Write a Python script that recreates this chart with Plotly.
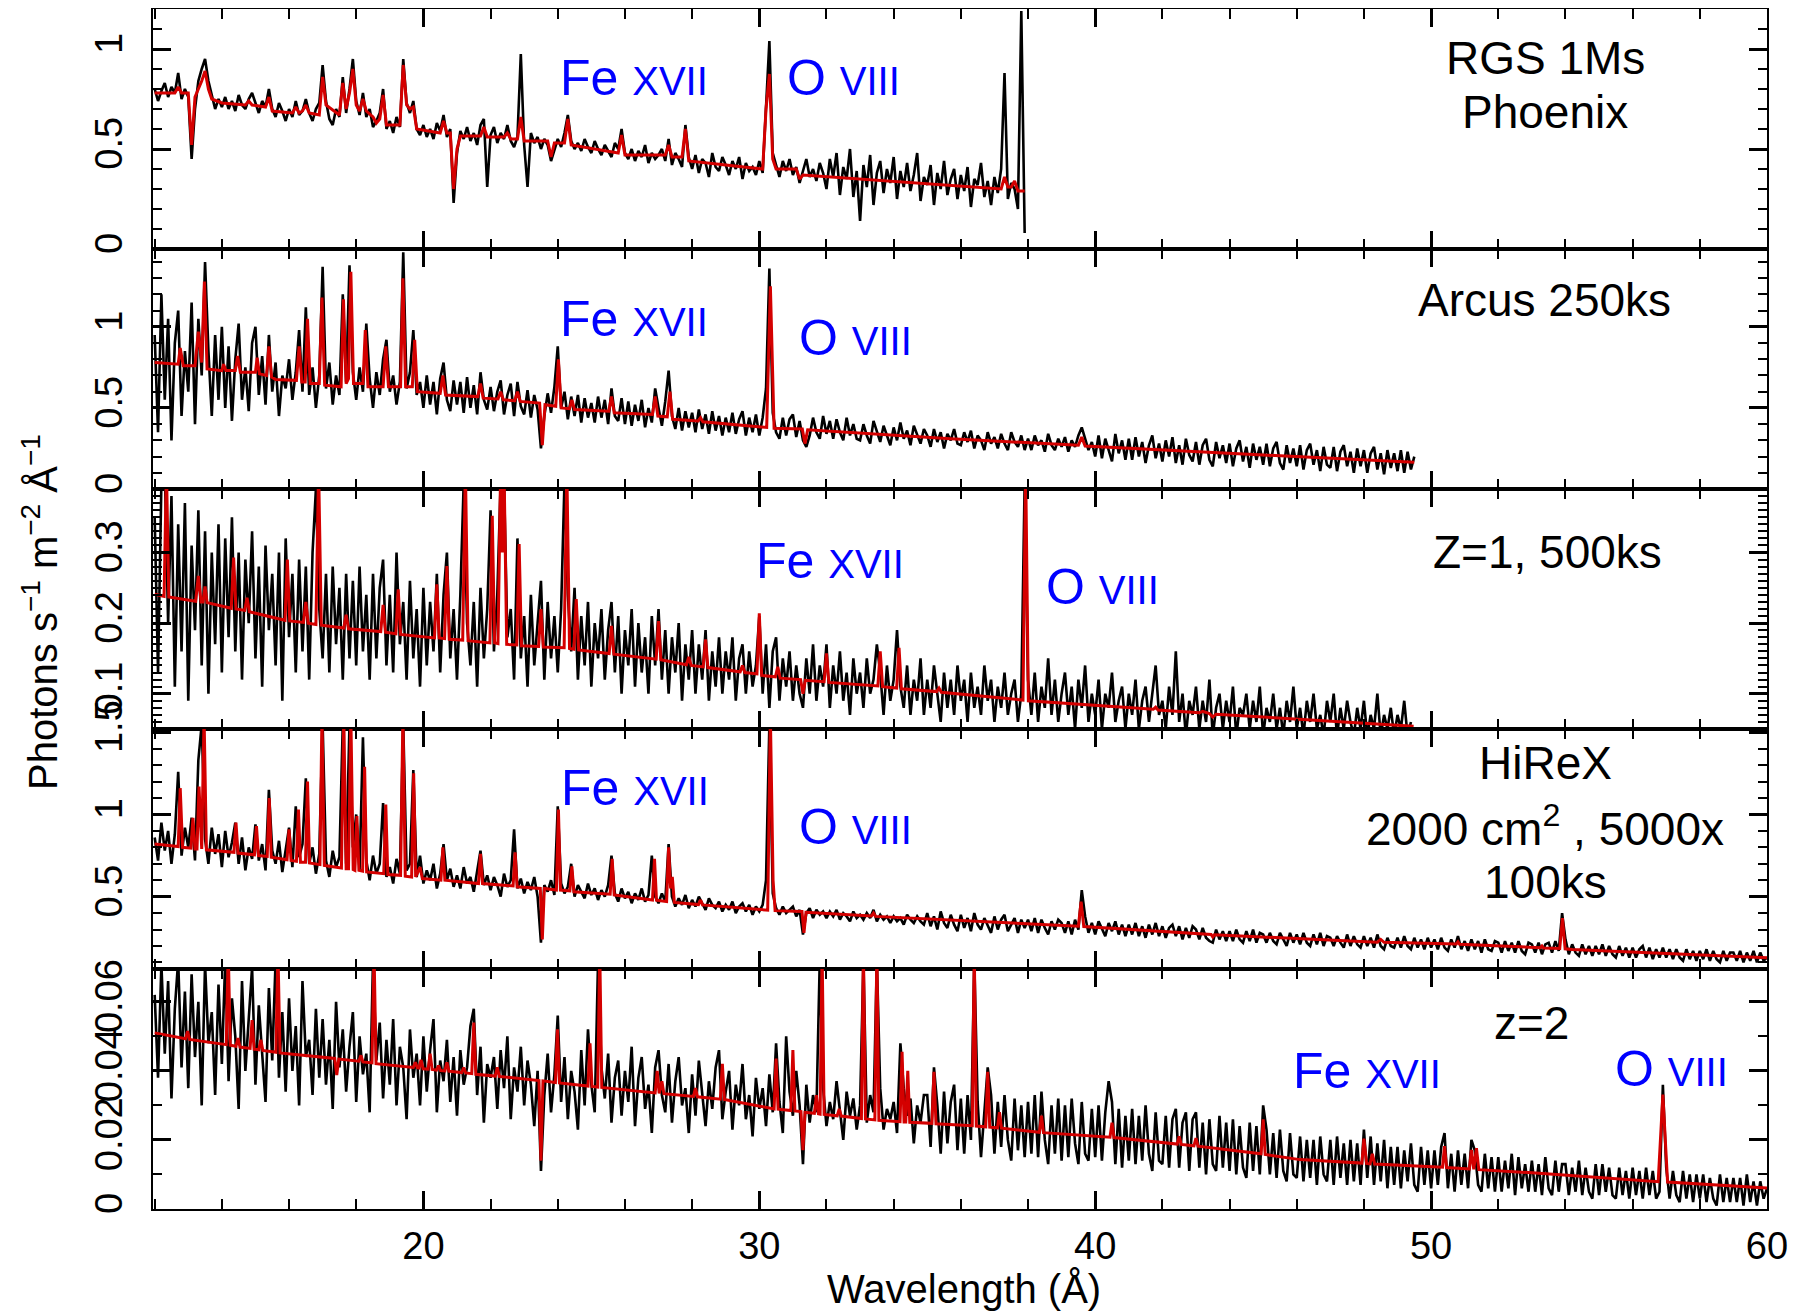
import numpy as np
import plotly.graph_objects as go
from plotly.subplots import make_subplots

# page offset of the figure (default body margin of the html page)
OFF = 8
W, H = 1804 - OFF, 1314 - OFF
ML, MR, MT, MB = 153 - OFF, 37, 9 - OFF, 105
FONT = "Liberation Sans, Arial, Helvetica, sans-serif"
BLUE = "#0000ff"
RED = "#d40000"

# ---------------- data: binned spectra (0.1 A bins starting at 12.0 A) ----------------
rgs_flux = [
    0.80,0.74,0.79,0.83,0.76,0.81,0.78,0.88,0.75,0.80,
    0.76,0.45,0.70,0.84,0.90,0.95,0.84,0.77,0.70,0.75,
    0.71,0.76,0.70,0.74,0.69,0.77,0.72,0.70,0.75,0.78,
    0.73,0.68,0.74,0.71,0.80,0.70,0.66,0.73,0.69,0.64,
    0.70,0.66,0.74,0.67,0.69,0.75,0.68,0.64,0.70,0.73,
    0.92,0.74,0.65,0.62,0.70,0.66,0.86,0.68,0.80,0.95,
    0.74,0.67,0.78,0.66,0.70,0.61,0.64,0.68,0.80,0.60,
    0.64,0.58,0.66,0.61,0.95,0.73,0.68,0.74,0.60,0.57,
    0.62,0.56,0.60,0.55,0.63,0.59,0.67,0.56,0.60,0.23,
    0.48,0.59,0.55,0.61,0.54,0.58,0.52,0.62,0.65,0.31,
    0.57,0.61,0.53,0.58,0.55,0.62,0.54,0.51,0.56,0.975,
    0.52,0.31,0.58,0.53,0.56,0.50,0.55,0.52,0.44,0.50,
    0.55,0.51,0.58,0.67,0.54,0.50,0.53,0.49,0.55,0.51,
    0.48,0.54,0.50,0.47,0.52,0.49,0.46,0.53,0.50,0.60,
    0.48,0.45,0.50,0.44,0.49,0.46,0.52,0.43,0.48,0.45,
    0.47,0.50,0.44,0.55,0.42,0.48,0.45,0.41,0.62,0.46,
    0.40,0.47,0.38,0.45,0.43,0.36,0.48,0.41,0.39,0.46,
    0.42,0.37,0.44,0.40,0.46,0.35,0.43,0.39,0.41,0.37,
    0.44,0.38,0.72,1.04,0.48,0.42,0.36,0.44,0.39,0.45,
    0.37,0.41,0.33,0.39,0.45,0.36,0.40,0.34,0.43,0.38,
    0.30,0.45,0.36,0.48,0.27,0.41,0.35,0.50,0.26,0.39,
    0.14,0.42,0.31,0.47,0.22,0.38,0.44,0.28,0.40,0.33,
    0.46,0.25,0.39,0.31,0.43,0.29,0.37,0.48,0.24,0.36,
    0.32,0.42,0.22,0.38,0.30,0.44,0.27,0.35,0.40,0.25,
    0.37,0.29,0.41,0.21,0.35,0.32,0.43,0.26,0.34,0.22,
    0.36,0.28,0.40,0.88,0.25,0.33,0.30,0.20,1.19,0.08,
]

arcus_flux = [
    0.95,0.35,1.20,0.55,1.05,0.30,0.90,1.10,0.45,0.85,
    0.60,1.15,0.40,1.05,0.70,1.40,0.85,0.45,0.95,0.55,
    1.00,0.50,0.88,0.42,0.80,1.02,0.55,0.75,0.48,0.90,
    1.00,0.58,0.82,0.52,0.95,0.60,0.78,0.45,0.70,0.62,
    0.80,0.55,0.72,0.98,0.60,1.12,0.58,0.75,0.50,0.70,
    1.37,0.62,0.78,0.52,0.70,0.58,1.20,0.66,1.38,0.72,
    0.55,0.75,0.60,1.02,0.68,0.50,0.72,0.58,0.80,0.92,
    0.60,0.70,0.52,0.66,1.46,0.62,0.72,0.98,0.58,0.66,
    0.50,0.70,0.52,0.66,0.46,0.68,0.78,0.55,0.48,0.67,
    0.52,0.66,0.47,0.69,0.50,0.64,0.46,0.72,0.55,0.49,
    0.63,0.48,0.60,0.67,0.46,0.58,0.65,0.45,0.66,0.51,
    0.46,0.61,0.44,0.58,0.49,0.25,0.45,0.59,0.47,0.63,
    0.88,0.50,0.60,0.43,0.57,0.45,0.58,0.41,0.56,0.44,
    0.53,0.41,0.57,0.44,0.55,0.40,0.62,0.45,0.42,0.56,
    0.40,0.54,0.39,0.52,0.42,0.55,0.38,0.50,0.41,0.62,
    0.50,0.39,0.54,0.73,0.45,0.37,0.50,0.36,0.48,0.38,
    0.47,0.35,0.49,0.37,0.46,0.34,0.48,0.36,0.45,0.33,
    0.44,0.35,0.47,0.34,0.43,0.48,0.33,0.44,0.35,0.46,
    0.33,0.44,0.62,1.36,0.47,0.35,0.31,0.44,0.33,0.43,
    0.46,0.32,0.42,0.30,0.26,0.33,0.44,0.35,0.31,0.45,
    0.34,0.42,0.31,0.43,0.35,0.30,0.44,0.33,0.40,0.31,
    0.30,0.40,0.33,0.28,0.42,0.35,0.29,0.39,0.33,0.27,
    0.38,0.30,0.41,0.31,0.36,0.27,0.39,0.33,0.28,0.37,
    0.33,0.26,0.37,0.29,0.35,0.25,0.34,0.30,0.37,0.28,
    0.27,0.35,0.29,0.36,0.25,0.33,0.30,0.24,0.35,0.28,
    0.32,0.25,0.34,0.28,0.24,0.35,0.29,0.26,0.33,0.24,
    0.31,0.24,0.33,0.27,0.30,0.23,0.34,0.27,0.24,0.31,
    0.26,0.32,0.23,0.30,0.26,0.33,0.38,0.31,0.24,0.29,
    0.20,0.33,0.19,0.31,0.24,0.17,0.34,0.22,0.30,0.18,
    0.31,0.18,0.32,0.20,0.29,0.16,0.27,0.33,0.19,0.28,
    0.17,0.30,0.20,0.32,0.16,0.27,0.15,0.31,0.21,0.17,
    0.29,0.15,0.27,0.31,0.18,0.14,0.29,0.19,0.27,0.16,
    0.28,0.14,0.25,0.30,0.17,0.26,0.13,0.28,0.18,0.26,
    0.15,0.28,0.14,0.25,0.29,0.16,0.12,0.27,0.16,0.25,
    0.14,0.27,0.12,0.24,0.28,0.15,0.24,0.11,0.26,0.15,
    0.13,0.26,0.11,0.23,0.27,0.14,0.23,0.10,0.25,0.14,
    0.24,0.10,0.22,0.26,0.12,0.22,0.09,0.24,0.13,0.22,
    0.11,0.24,0.10,0.23,0.12,0.20,
]

z1_flux = [
    0.35,0.13,0.40,0.42,0.20,0.38,0.11,0.34,0.16,0.37,
    0.09,0.31,0.19,0.36,0.14,0.33,0.10,0.30,0.17,0.34,
    0.13,0.32,0.18,0.35,0.16,0.30,0.12,0.29,0.20,0.33,
    0.15,0.28,0.11,0.31,0.19,0.27,0.14,0.30,0.09,0.32,
    0.18,0.27,0.13,0.29,0.16,0.28,0.12,0.30,0.39,0.22,
    0.15,0.27,0.13,0.28,0.17,0.25,0.12,0.27,0.15,0.26,
    0.14,0.28,0.16,0.24,0.12,0.27,0.15,0.25,0.29,0.14,
    0.24,0.13,0.30,0.17,0.23,0.12,0.26,0.15,0.22,0.11,
    0.25,0.14,0.23,0.16,0.27,0.13,0.24,0.30,0.15,0.22,
    0.12,0.24,0.40,0.20,0.14,0.23,0.11,0.25,0.15,0.22,
    0.36,0.16,0.24,0.40,0.40,0.18,0.22,0.12,0.32,0.15,
    0.21,0.11,0.24,0.14,0.20,0.26,0.12,0.23,0.15,0.21,
    0.13,0.22,0.40,0.24,0.16,0.25,0.12,0.21,0.14,0.23,
    0.11,0.20,0.15,0.22,0.12,0.19,0.23,0.13,0.21,0.10,
    0.19,0.14,0.22,0.11,0.20,0.13,0.18,0.10,0.21,0.14,
    0.22,0.12,0.19,0.10,0.18,0.13,0.20,0.09,0.17,0.12,
    0.19,0.10,0.17,0.12,0.19,0.09,0.16,0.11,0.18,0.10,
    0.16,0.12,0.18,0.09,0.15,0.17,0.10,0.16,0.11,0.14,
    0.21,0.10,0.17,0.08,0.16,0.18,0.09,0.15,0.11,0.16,
    0.09,0.14,0.10,0.08,0.15,0.10,0.17,0.09,0.14,0.11,
    0.17,0.08,0.14,0.10,0.16,0.09,0.13,0.07,0.15,0.10,
    0.13,0.08,0.15,0.10,0.12,0.17,0.13,0.07,0.14,0.09,
    0.12,0.19,0.11,0.08,0.14,0.07,0.12,0.09,0.15,0.07,
    0.12,0.08,0.14,0.10,0.06,0.13,0.08,0.12,0.07,0.14,
    0.09,0.12,0.06,0.13,0.08,0.11,0.07,0.14,0.09,0.12,
    0.06,0.11,0.08,0.13,0.07,0.10,0.12,0.06,0.10,0.40,
    0.12,0.07,0.13,0.06,0.11,0.08,0.15,0.07,0.12,0.06,
    0.10,0.13,0.07,0.11,0.05,0.12,0.08,0.14,0.06,0.10,
    0.07,0.12,0.05,0.10,0.08,0.13,0.06,0.09,0.11,0.05,
    0.10,0.07,0.12,0.05,0.09,0.11,0.06,0.10,0.14,0.07,
    0.09,0.05,0.11,0.07,0.16,0.06,0.10,0.04,0.09,0.07,
    0.11,0.05,0.09,0.06,0.12,0.04,0.08,0.10,0.05,0.09,
    0.06,0.11,0.04,0.08,0.07,0.10,0.05,0.09,0.06,0.11,
    0.04,0.08,0.06,0.10,0.05,0.08,0.04,0.09,0.06,0.11,
    0.05,0.08,0.04,0.09,0.06,0.10,0.05,0.07,0.04,0.09,
    0.06,0.10,0.04,0.08,0.05,0.09,0.06,0.04,0.08,0.05,
    0.09,0.04,0.07,0.05,0.10,0.04,0.07,0.05,0.08,0.04,
    0.07,0.05,0.09,0.04,0.06,
]

hirex_flux = [
    0.86,0.72,0.95,0.78,0.90,0.70,0.88,1.26,0.75,0.92,
    0.80,0.98,0.72,1.33,1.55,0.85,0.70,0.92,0.76,0.88,
    0.68,0.90,0.74,0.83,0.95,0.70,0.86,0.66,0.80,0.73,
    0.94,0.72,0.82,0.66,1.15,0.78,0.70,0.84,0.65,0.79,
    0.92,0.68,1.05,0.74,0.82,1.22,0.70,0.80,0.64,0.76,
    1.55,0.72,0.62,0.78,0.68,0.74,1.55,0.70,1.55,0.80,
    1.00,0.66,1.47,0.72,0.60,0.75,0.64,0.70,1.07,0.62,
    0.68,0.58,0.73,0.64,1.55,0.66,0.70,1.27,0.62,0.75,
    0.58,0.66,0.60,0.70,0.55,0.64,0.82,0.60,0.67,0.56,
    0.63,0.55,0.68,0.58,0.62,0.53,0.66,0.78,0.57,0.63,
    0.54,0.62,0.57,0.50,0.64,0.56,0.60,0.91,0.55,0.61,
    0.52,0.59,0.54,0.62,0.50,0.22,0.57,0.53,0.60,0.51,
    1.05,0.58,0.52,0.56,0.70,0.50,0.57,0.53,0.49,0.58,
    0.51,0.55,0.48,0.54,0.50,0.57,0.75,0.52,0.47,0.55,
    0.49,0.53,0.46,0.52,0.48,0.55,0.47,0.51,0.75,0.50,
    0.46,0.52,0.47,0.82,0.50,0.44,0.49,0.45,0.51,0.43,
    0.48,0.44,0.50,0.46,0.42,0.49,0.45,0.43,0.47,0.41,
    0.45,0.42,0.47,0.40,0.44,0.46,0.41,0.45,0.39,0.44,
    0.41,0.45,0.60,1.55,0.52,0.43,0.39,0.44,0.40,0.42,
    0.44,0.38,0.42,0.27,0.40,0.43,0.37,0.42,0.39,0.41,
    0.37,0.41,0.38,0.42,0.36,0.40,0.38,0.35,0.41,0.37,
    0.39,0.36,0.40,0.37,0.42,0.35,0.39,0.36,0.38,0.34,
    0.38,0.35,0.37,0.33,0.39,0.36,0.34,0.38,0.35,0.33,
    0.40,0.32,0.38,0.30,0.41,0.34,0.31,0.39,0.33,0.29,
    0.39,0.31,0.37,0.29,0.40,0.33,0.30,0.37,0.32,0.28,
    0.38,0.30,0.36,0.39,0.29,0.33,0.37,0.28,0.36,0.31,
    0.36,0.29,0.37,0.28,0.36,0.31,0.27,0.35,0.30,0.36,
    0.34,0.28,0.35,0.27,0.36,0.30,0.54,0.38,0.28,0.34,
    0.27,0.35,0.30,0.26,0.34,0.29,0.35,0.27,0.33,0.26,
    0.33,0.27,0.34,0.26,0.32,0.25,0.33,0.27,0.34,0.26,
    0.32,0.25,0.31,0.33,0.26,0.32,0.24,0.31,0.25,0.32,
    0.30,0.24,0.31,0.25,0.23,0.22,0.30,0.24,0.29,0.23,
    0.29,0.23,0.30,0.24,0.22,0.29,0.23,0.30,0.22,0.28,
    0.27,0.22,0.28,0.23,0.21,0.28,0.24,0.20,0.28,0.22,
    0.27,0.21,0.28,0.22,0.20,0.27,0.21,0.28,0.20,0.26,
    0.25,0.20,0.26,0.22,0.19,0.27,0.20,0.26,0.21,0.19,
    0.26,0.20,0.25,0.19,0.27,0.20,0.18,0.25,0.20,0.19,
    0.25,0.19,0.26,0.20,0.18,0.25,0.19,0.24,0.18,0.25,
    0.19,0.24,0.18,0.25,0.19,0.17,0.24,0.19,0.26,0.18,
    0.23,0.17,0.24,0.18,0.23,0.16,0.24,0.18,0.17,0.23,
    0.22,0.16,0.23,0.17,0.22,0.16,0.23,0.17,0.15,0.22,
    0.21,0.16,0.22,0.15,0.21,0.22,0.16,0.23,0.17,0.40,
    0.24,0.15,0.21,0.16,0.14,0.21,0.15,0.20,0.14,0.20,
    0.15,0.21,0.14,0.20,0.15,0.13,0.20,0.14,0.19,0.13,
    0.19,0.13,0.18,0.20,0.13,0.19,0.12,0.18,0.13,0.19,
    0.13,0.18,0.12,0.18,0.13,0.11,0.18,0.12,0.17,0.11,
    0.17,0.12,0.18,0.11,0.17,0.12,0.10,0.17,0.11,0.16,
    0.16,0.11,0.17,0.10,0.16,0.11,0.17,0.10,0.16,0.11,
    0.13,
]

z2_flux = [
    0.062,0.038,0.071,0.045,0.066,0.032,0.058,0.072,0.041,0.063,
    0.035,0.068,0.044,0.060,0.030,0.071,0.048,0.057,0.033,0.065,
    0.042,0.072,0.037,0.061,0.050,0.029,0.066,0.040,0.055,0.070,
    0.036,0.059,0.045,0.031,0.064,0.043,0.072,0.038,0.057,0.034,
    0.061,0.040,0.053,0.030,0.066,0.044,0.049,0.033,0.058,0.038,
    0.055,0.036,0.049,0.029,0.060,0.041,0.052,0.034,0.047,0.057,
    0.031,0.050,0.039,0.045,0.028,0.072,0.043,0.054,0.032,0.049,
    0.036,0.055,0.030,0.047,0.041,0.026,0.052,0.038,0.045,0.030,
    0.050,0.034,0.046,0.055,0.028,0.043,0.037,0.049,0.031,0.044,
    0.027,0.046,0.036,0.041,0.053,0.058,0.033,0.047,0.025,0.042,
    0.038,0.044,0.029,0.046,0.035,0.050,0.026,0.041,0.034,0.047,
    0.030,0.043,0.036,0.024,0.040,0.011,0.033,0.045,0.028,0.039,
    0.056,0.031,0.044,0.026,0.040,0.034,0.023,0.046,0.030,0.052,
    0.036,0.028,0.072,0.041,0.032,0.045,0.025,0.038,0.043,0.027,
    0.040,0.031,0.047,0.024,0.038,0.044,0.029,0.036,0.022,0.041,
    0.046,0.033,0.028,0.042,0.025,0.037,0.044,0.030,0.035,0.022,
    0.039,0.027,0.043,0.033,0.024,0.037,0.029,0.041,0.046,0.026,
    0.034,0.040,0.023,0.036,0.030,0.042,0.026,0.033,0.021,0.038,
    0.029,0.035,0.024,0.039,0.028,0.048,0.031,0.022,0.050,0.034,
    0.027,0.040,0.030,0.013,0.036,0.025,0.033,0.028,0.072,0.035,
    0.024,0.031,0.026,0.037,0.029,0.020,0.034,0.027,0.032,0.023,
    0.030,0.072,0.025,0.033,0.028,0.072,0.035,0.023,0.029,0.026,
    0.031,0.022,0.048,0.035,0.027,0.032,0.019,0.030,0.025,0.033,
    0.033,0.018,0.041,0.030,0.016,0.034,0.019,0.031,0.036,0.017,
    0.032,0.016,0.033,0.020,0.072,0.031,0.015,0.029,0.041,0.033,
    0.016,0.031,0.018,0.033,0.020,0.014,0.032,0.017,0.030,0.015,
    0.031,0.016,0.033,0.015,0.034,0.020,0.013,0.030,0.016,0.032,
    0.014,0.030,0.015,0.032,0.019,0.013,0.031,0.016,0.014,0.029,
    0.015,0.030,0.014,0.028,0.037,0.031,0.013,0.029,0.012,0.027,
    0.014,0.029,0.013,0.027,0.014,0.030,0.016,0.011,0.028,0.014,
    0.013,0.027,0.012,0.026,0.029,0.012,0.025,0.028,0.011,0.026,
    0.028,0.012,0.025,0.010,0.026,0.013,0.011,0.027,0.012,0.025,
    0.011,0.026,0.010,0.024,0.012,0.009,0.025,0.011,0.024,0.010,
    0.030,0.023,0.010,0.022,0.009,0.023,0.011,0.008,0.022,0.010,
    0.009,0.021,0.008,0.020,0.009,0.020,0.007,0.021,0.010,0.008,
    0.020,0.007,0.021,0.009,0.019,0.007,0.020,0.008,0.019,0.007,
    0.023,0.009,0.021,0.007,0.019,0.008,0.020,0.006,0.018,0.007,
    0.018,0.006,0.017,0.008,0.019,0.007,0.005,0.018,0.007,0.017,
    0.006,0.017,0.007,0.018,0.022,0.006,0.016,0.005,0.017,0.007,
    0.016,0.006,0.020,0.017,0.007,0.005,0.016,0.006,0.015,0.005,
    0.015,0.005,0.014,0.006,0.016,0.004,0.015,0.006,0.013,0.005,
    0.014,0.005,0.013,0.004,0.015,0.006,0.004,0.014,0.005,0.013,
    0.013,0.004,0.012,0.005,0.014,0.004,0.012,0.005,0.003,0.013,
    0.004,0.013,0.005,0.012,0.004,0.003,0.012,0.004,0.011,0.003,
    0.012,0.004,0.011,0.003,0.012,0.004,0.011,0.003,0.005,0.036,
    0.012,0.003,0.011,0.004,0.002,0.011,0.003,0.010,0.002,0.010,
    0.003,0.010,0.002,0.009,0.003,0.001,0.010,0.002,0.009,0.002,
    0.009,0.002,0.009,0.001,0.010,0.002,0.008,0.001,0.008,0.003,
    0.006,
]

# ---------------- data: model curves (wavelength, flux) ----------------
rgs_model = [
    (12.0,0.78),(12.6,0.78),(12.7,0.81),(12.8,0.78),(13.0,0.78),(13.1,0.52),(13.2,0.76),
    (13.3,0.80),(13.4,0.84),(13.5,0.89),(13.6,0.80),(13.7,0.75),(14.0,0.73),(14.7,0.72),
    (14.8,0.74),(14.9,0.72),(15.3,0.71),(15.4,0.76),(15.5,0.69),(16.1,0.68),(16.2,0.71),
    (16.3,0.68),(16.4,0.69),(16.5,0.72),(16.6,0.68),(16.9,0.67),(17.0,0.86),(17.1,0.72),
    (17.5,0.67),(17.6,0.83),(17.7,0.70),(17.8,0.78),(17.9,0.90),(18.0,0.72),(18.1,0.69),
    (18.2,0.75),(18.3,0.69),(18.5,0.66),(18.6,0.63),(18.7,0.65),(18.8,0.77),(18.9,0.62),
    (19.3,0.62),(19.4,0.92),(19.5,0.72),(19.6,0.70),(19.7,0.71),(19.8,0.60),(20.5,0.58),
    (20.6,0.64),(20.7,0.58),(20.8,0.58),(20.9,0.30),(21.0,0.50),(21.1,0.565),(21.7,0.565),
    (21.8,0.61),(21.9,0.56),(22.4,0.56),(22.5,0.58),(22.6,0.55),(22.8,0.55),(22.9,0.66),
    (23.0,0.54),(23.7,0.54),(23.8,0.46),(23.9,0.53),(24.2,0.53),(24.3,0.65),(24.4,0.52),
    (25.8,0.48),(25.9,0.57),(26.0,0.47),(27.2,0.47),(27.3,0.52),(27.4,0.46),(27.7,0.46),
    (27.8,0.60),(27.9,0.44),(30.1,0.40),(30.2,0.70),(30.3,0.875),(30.4,0.45),(30.5,0.40),
    (31.1,0.40),(31.2,0.35),(31.3,0.37),(37.2,0.30),(37.3,0.36),(37.4,0.31),(37.5,0.31),
    (37.6,0.34),(37.7,0.29),(37.9,0.29),
]

arcus_model = [
    (12.0,0.78),(12.7,0.77),(12.76,0.87),(12.85,0.76),(13.2,0.76),(13.3,0.97),(13.4,0.78),
    (13.48,1.28),(13.56,0.74),(14.0,0.73),(14.05,0.77),(14.12,0.73),(14.4,0.73),(14.47,0.82),
    (14.55,0.72),(15.0,0.72),(15.05,0.81),(15.12,0.71),(15.33,0.70),(15.4,0.88),(15.48,0.69),
    (15.6,0.675),(16.22,0.67),(16.3,0.88),(16.38,0.66),(16.48,0.66),(16.55,1.05),(16.63,0.65),
    (16.9,0.65),(16.98,1.18),(17.06,0.64),(17.55,0.63),(17.62,1.17),(17.7,0.65),(17.77,0.68),
    (17.84,1.34),(17.92,0.65),(18.2,0.65),(18.27,0.98),(18.35,0.63),(18.8,0.63),(18.88,0.88),
    (18.96,0.63),(19.32,0.63),(19.39,1.30),(19.47,0.63),(19.67,0.63),(19.74,0.92),(19.82,0.60),
    (20.5,0.59),(20.58,0.70),(20.66,0.58),(21.62,0.57),(21.7,0.65),(21.78,0.56),(22.22,0.555),
    (22.3,0.60),(22.38,0.55),(22.72,0.545),(22.8,0.60),(22.88,0.54),(23.46,0.53),(23.54,0.27),
    (23.62,0.52),(23.94,0.51),(24.02,0.80),(24.1,0.50),(24.35,0.495),(24.42,0.55),(24.5,0.49),
    (25.52,0.48),(25.6,0.57),(25.68,0.47),(26.82,0.46),(26.9,0.57),(26.98,0.45),(27.26,0.445),
    (27.34,0.60),(27.42,0.43),(28.18,0.42),(28.25,0.44),(28.32,0.415),(30.22,0.38),(30.33,1.25),
    (30.44,0.375),(31.28,0.37),(31.36,0.28),(31.44,0.365),(35.7,0.31),(39.5,0.27),(39.6,0.32),
    (39.7,0.265),(45.0,0.21),(49.5,0.165),
]

z1_model = [
    (12.0,0.241),(12.28,0.238),(12.35,0.42),(12.42,0.237),(13.22,0.231),(13.3,0.267),(13.38,0.23),
    (13.44,0.23),(13.5,0.252),(13.56,0.229),(14.28,0.221),(14.35,0.293),(14.42,0.22),(14.68,0.218),
    (14.75,0.236),(14.82,0.216),(15.88,0.204),(15.95,0.29),(16.02,0.203),(16.43,0.201),(16.5,0.23),
    (16.57,0.20),(16.8,0.198),(16.88,0.42),(16.96,0.197),(17.63,0.193),(17.7,0.212),(17.77,0.192),
    (18.73,0.188),(18.8,0.226),(18.87,0.187),(19.18,0.185),(19.25,0.248),(19.32,0.184),(20.33,0.179),
    (20.4,0.255),(20.47,0.179),(20.63,0.178),(20.7,0.281),(20.77,0.177),(21.17,0.176),(21.25,0.42),
    (21.33,0.175),(21.98,0.172),(22.05,0.352),(22.12,0.172),(22.22,0.171),(22.3,0.42),(22.35,0.30),
    (22.4,0.42),(22.48,0.170),(22.78,0.169),(22.85,0.312),(22.92,0.168),(23.43,0.167),(23.5,0.22),
    (23.57,0.166),(24.19,0.165),(24.27,0.42),(24.35,0.164),(24.48,0.163),(24.55,0.234),(24.62,0.162),
    (25.53,0.157),(25.6,0.196),(25.67,0.156),(26.93,0.149),(27.0,0.203),(27.07,0.148),(27.83,0.141),
    (27.9,0.152),(27.97,0.140),(28.33,0.138),(28.4,0.177),(28.47,0.137),(29.43,0.131),(29.5,0.14),
    (29.57,0.130),(29.93,0.128),(30.0,0.214),(30.07,0.126),(30.48,0.124),(30.55,0.138),(30.62,0.122),
    (31.23,0.120),(31.3,0.10),(31.37,0.119),(31.93,0.117),(32.0,0.157),(32.07,0.116),(33.53,0.111),
    (33.6,0.16),(33.67,0.110),(34.09,0.108),(34.16,0.165),(34.23,0.107),(35.28,0.103),(35.35,0.108),
    (35.42,0.102),(37.85,0.091),(37.93,0.42),(38.01,0.090),(41.73,0.078),(41.8,0.081),(41.87,0.077),
    (43.1,0.073),(43.2,0.075),(43.4,0.072),(43.5,0.067),(43.6,0.071),(49.48,0.054),
]

hirex_model = [
    (12.0,0.82),(12.7,0.805),(12.76,1.16),(12.83,0.80),(13.08,0.795),(13.14,0.98),(13.2,0.79),
    (13.26,0.79),(13.32,1.17),(13.4,0.79),(13.47,1.60),(13.54,0.785),(14.36,0.77),(14.42,0.95),
    (14.48,0.765),(14.97,0.755),(15.03,0.93),(15.09,0.75),(15.35,0.745),(15.41,1.10),(15.47,0.74),
    (15.94,0.725),(16.0,0.91),(16.06,0.72),(16.22,0.715),(16.28,1.03),(16.34,0.71),(16.49,0.71),
    (16.55,1.20),(16.61,0.705),(16.92,0.695),(16.98,1.60),(17.05,0.69),(17.56,0.675),(17.63,1.60),
    (17.7,0.67),(17.77,0.67),(17.84,1.60),(17.91,0.665),(17.96,0.66),(18.02,0.99),(18.08,0.66),
    (18.19,0.655),(18.25,1.29),(18.31,0.65),(18.82,0.64),(18.88,1.06),(18.94,0.635),(19.32,0.63),
    (19.39,1.60),(19.46,0.625),(19.65,0.62),(19.71,1.25),(19.77,0.62),(19.9,0.68),(19.97,0.61),
    (20.52,0.60),(20.58,0.80),(20.64,0.60),(21.64,0.58),(21.7,0.76),(21.76,0.58),(22.67,0.565),
    (22.73,0.77),(22.79,0.56),(23.48,0.55),(23.54,0.24),(23.6,0.55),(23.96,0.54),(24.02,1.03),
    (24.08,0.54),(24.36,0.535),(24.42,0.685),(24.48,0.53),(25.56,0.515),(25.62,0.73),(25.68,0.51),
    (26.82,0.48),(26.88,0.73),(26.94,0.478),(27.24,0.47),(27.3,0.80),(27.36,0.55),(27.41,0.62),
    (27.47,0.465),(28.19,0.452),(28.25,0.48),(28.31,0.45),(30.25,0.418),(30.33,1.60),(30.41,0.60),
    (30.47,0.415),(31.27,0.41),(31.33,0.28),(31.39,0.405),(33.34,0.382),(33.4,0.40),(33.46,0.38),
    (39.5,0.32),(39.58,0.47),(39.66,0.318),(43.45,0.27),(43.5,0.255),(43.55,0.268),(48.4,0.223),
    (48.5,0.24),(48.6,0.222),(50.75,0.212),(50.8,0.225),(50.85,0.21),(53.25,0.19),(53.3,0.20),
    (53.35,0.188),(53.83,0.185),(53.91,0.37),(53.99,0.183),(54.2,0.178),(60.0,0.128),
]

z2_model = [
    (12.0,0.051),(12.92,0.0493),(12.98,0.0515),(13.04,0.0491),(14.13,0.0476),(14.19,0.075),
    (14.25,0.0474),(14.42,0.0471),(14.48,0.0495),(14.54,0.0469),(14.84,0.0465),(14.9,0.0547),
    (14.96,0.0463),(15.1,0.0461),(15.16,0.049),(15.22,0.0459),(15.61,0.0454),(15.67,0.075),
    (15.73,0.0452),(17.36,0.0436),(17.42,0.0388),(17.48,0.0434),(18.08,0.0428),(18.14,0.0445),
    (18.2,0.0426),(18.47,0.0423),(18.53,0.075),(18.59,0.0421),(19.7,0.041),(19.76,0.0425),
    (19.82,0.0409),(19.87,0.0408),(19.93,0.0432),(19.99,0.0406),(20.14,0.0405),(20.2,0.045),
    (20.26,0.0404),(20.39,0.0402),(20.45,0.0415),(20.51,0.0401),(20.64,0.040),(20.7,0.0425),
    (20.76,0.0399),(21.14,0.0395),(21.2,0.041),(21.26,0.0394),(21.44,0.0392),(21.5,0.054),
    (21.56,0.039),(22.14,0.0385),(22.2,0.041),(22.26,0.0384),(23.44,0.0372),(23.5,0.014),
    (23.56,0.0371),(23.93,0.0366),(23.99,0.052),(24.05,0.0365),(24.9,0.0356),(24.96,0.048),
    (25.02,0.0355),(25.19,0.0353),(25.25,0.075),(25.31,0.0352),(26.9,0.0336),(26.96,0.040),
    (27.02,0.0335),(27.1,0.037),(27.16,0.0334),(28.04,0.0326),(28.1,0.035),(28.16,0.0325),
    (28.84,0.0318),(28.9,0.042),(28.96,0.0317),(30.44,0.029),(30.5,0.0436),(30.56,0.0289),
    (30.94,0.0285),(31.0,0.046),(31.06,0.0284),(31.24,0.0282),(31.3,0.017),(31.36,0.028),
    (31.64,0.0277),(31.7,0.033),(31.76,0.0276),(31.81,0.0275),(31.87,0.075),(31.93,0.0274),
    (32.32,0.027),(32.38,0.029),(32.44,0.0269),(33.04,0.0262),(33.1,0.075),(33.16,0.0261),
    (33.44,0.0258),(33.5,0.075),(33.56,0.0257),(34.19,0.0253),(34.25,0.0455),(34.31,0.0252),
    (34.36,0.0252),(34.42,0.040),(34.48,0.0251),(35.14,0.0248),(35.2,0.0397),(35.26,0.0247),
    (36.34,0.0241),(36.4,0.075),(36.46,0.024),(36.74,0.0238),(36.8,0.0397),(36.86,0.0237),
    (37.09,0.0235),(37.15,0.028),(37.21,0.0234),(38.34,0.0222),(38.4,0.027),(38.46,0.0221),
    (40.44,0.0208),(40.5,0.025),(40.56,0.0207),(42.44,0.0188),(42.5,0.021),(42.56,0.0187),
    (42.94,0.0183),(43.0,0.0205),(43.06,0.0182),(44.94,0.016),(45.0,0.026),(45.06,0.0158),
    (46.1,0.0143),(47.94,0.0133),(48.0,0.0204),(48.08,0.0132),(48.18,0.0131),(48.25,0.016),
    (48.32,0.013),(50.34,0.0121),(50.4,0.0182),(50.46,0.012),(51.14,0.0116),(51.2,0.0171),
    (51.27,0.0115),(51.35,0.0176),(51.42,0.0114),(53.0,0.0105),(56.76,0.0079),(56.9,0.0331),
    (57.04,0.0078),(60.0,0.0061),
]

# y-axis settings per panel: (range, major dtick, minor dtick)
y_ranges = [[0, 1.2], [0, 1.48], [0.05, 0.39], [0.06, 1.52], [0, 0.0695]]
y_dticks = [0.5, 0.5, 0.1, 0.5, 0.02]
y_minor = [0.1, 0.1, 0.01, 0.1, 0.01]
x_range = [11.95, 60.0]

spectra = [rgs_flux, arcus_flux, z1_flux, hirex_flux, z2_flux]
models = [rgs_model, arcus_model, z1_model, hirex_model, z2_model]

fig = make_subplots(rows=5, cols=1, shared_xaxes=True, vertical_spacing=0)

for i, (flux, model) in enumerate(zip(spectra, models)):
    wl = 12.0 + 0.1 * np.arange(len(flux))
    fig.add_trace(go.Scatter(x=wl, y=flux, mode="lines",
                             line=dict(color="black", width=2.6)),
                  row=i + 1, col=1)
    mx, my = zip(*model)
    fig.add_trace(go.Scatter(x=list(mx), y=list(my), mode="lines",
                             line=dict(color=RED, width=3)), row=i + 1, col=1)
    fig.update_yaxes(range=y_ranges[i], dtick=y_dticks[i], tick0=0,
                     minor=dict(dtick=y_minor[i], tick0=0, ticks="inside",
                                ticklen=9, tickwidth=2, tickcolor="black"),
                     row=i + 1, col=1)

axis_common = dict(showline=True, linecolor="black", linewidth=2, mirror="allticks",
                   ticks="inside", ticklen=18, tickwidth=2.5, tickcolor="black",
                   showgrid=False, zeroline=False, automargin=False,
                   tickfont=dict(family=FONT, size=38, color="black"))
fig.update_xaxes(**axis_common, range=x_range, dtick=10, tick0=0,
                 minor=dict(dtick=2, tick0=0, ticks="inside", ticklen=10,
                            tickwidth=2, tickcolor="black"),
                 ticklabelstandoff=2)
fig.update_yaxes(**axis_common, tickangle=-90, ticklabelstandoff=14)
for r in range(1, 5):
    fig.update_xaxes(showticklabels=False, row=r, col=1)
fig.update_xaxes(showticklabels=True, row=5, col=1)


def px(X, Y):
    """page pixel -> paper coordinate"""
    return (X - OFF - ML) / (W - ML - MR), 1 - (Y - OFF - MT) / (H - MT - MB)


def ion(big, small):
    return f"{big} <span style='font-size:40px'>{small}</span>"


labels = [
    # text, x px, y px, color, size
    (ion("Fe", "XVII"), 634, 78, BLUE, 50),
    (ion("O", "VIII"), 843, 78, BLUE, 50),
    ("RGS 1Ms", 1545, 58, "black", 46),
    ("Phoenix", 1545, 112, "black", 46),
    (ion("Fe", "XVII"), 634, 319, BLUE, 50),
    (ion("O", "VIII"), 855, 338, BLUE, 50),
    ("Arcus 250ks", 1544, 300, "black", 46),
    (ion("Fe", "XVII"), 830, 561, BLUE, 50),
    (ion("O", "VIII"), 1102, 587, BLUE, 50),
    ("Z=1, 500ks", 1547, 552, "black", 46),
    (ion("Fe", "XVII"), 635, 788, BLUE, 50),
    (ion("O", "VIII"), 855, 827, BLUE, 50),
    ("HiReX", 1545, 763, "black", 46),
    ("2000 cm<sup>2</sup> , 5000x", 1545, 826, "black", 46),
    ("100ks", 1545, 882, "black", 46),
    ("z=2", 1531, 1023, "black", 46),
    (ion("Fe", "XVII"), 1367, 1071, BLUE, 50),
    (ion("O", "VIII"), 1671, 1069, BLUE, 50),
    ("Wavelength (Å)", 964, 1289, "black", 40),
]
annots = []
for text, X, Y, col, size in labels:
    xp, yp = px(X, Y)
    annots.append(dict(text=text, x=xp, y=yp, xref="paper", yref="paper",
                       xanchor="center", yanchor="middle", showarrow=False,
                       font=dict(family=FONT, size=size, color=col)))
xp, yp = px(40, 612)
annots.append(dict(text="Photons s<sup>−1</sup> m<sup>−2</sup> Å<sup>−1</sup>", x=xp, y=yp,
                   xref="paper", yref="paper", xanchor="center", yanchor="middle",
                   textangle=-90, showarrow=False,
                   font=dict(family=FONT, size=40, color="black")))

fig.update_layout(width=W, height=H, margin=dict(l=ML, r=MR, t=MT, b=MB, autoexpand=False),
                  paper_bgcolor="white", plot_bgcolor="white", showlegend=False,
                  annotations=annots)

fig.write_html("out.html")
